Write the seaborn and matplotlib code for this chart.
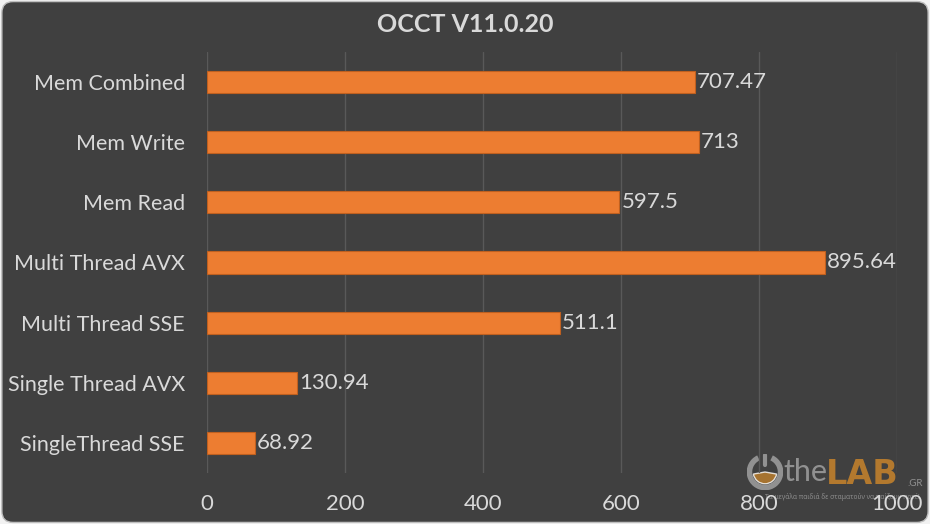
import matplotlib
matplotlib.use("Agg")
import matplotlib.pyplot as plt
import seaborn as sns
import pandas as pd
from matplotlib.patches import FancyBboxPatch, Arc, Wedge

categories = ["Mem Combined", "Mem Write", "Mem Read", "Multi Thread AVX",
              "Multi Thread SSE", "Single Thread AVX", "SingleThread SSE"]
values = [707.47, 713, 597.5, 895.64, 511.1, 130.94, 68.92]
value_labels = ["707.47", "713", "597.5", "895.64", "511.1", "130.94", "68.92"]
x_ticks = [0, 200, 400, 600, 800, 1000]
title = "OCCT V11.0.20"

df = pd.DataFrame({"cat": categories, "val": values})

sns.set_theme(style="dark")
plt.rcParams['font.family'] = ['Lato', 'DejaVu Sans']

BG = "#404040"
TXT = "#D9D9D9"
ORANGE = "#ED7D31"
WM_GRAY = "#A0A0A0"
WM_ORANGE = "#C0802C"

fig = plt.figure(figsize=(9.3, 5.24), dpi=100)
fig.patch.set_facecolor("#F2F2F2")
bg = FancyBboxPatch((0.002, 0.003), 0.996, 0.994, boxstyle="round,pad=0,rounding_size=0.012",
                    transform=fig.transFigure, facecolor=BG, edgecolor="#BFBFBF", linewidth=1.0,
                    mutation_aspect=930/524, zorder=-10)
fig.patches.append(bg)

# watermark logo (behind chart)
lax = fig.add_axes([747/930, 1 - 490/524, 36/930, 36/524], zorder=-2)
lax.set_xlim(-1.1, 1.1)
lax.set_ylim(-1.1, 1.1)
lax.set_aspect("equal")
lax.axis("off")
lax.add_patch(Wedge((0, 0), 0.72, 190, 350, facecolor=WM_ORANGE, alpha=0.8))
lax.add_patch(Arc((0, 0), 1.9, 1.9, theta1=115, theta2=425, color=WM_GRAY,
                  linewidth=4, alpha=0.85))
lax.plot([0, 0], [0.45, 1.05], color=WM_GRAY, linewidth=3, alpha=0.85)

fig.text(783/930, 1 - 472/524, "the", color=WM_GRAY, fontsize=22, alpha=0.85,
         ha="left", va="center", zorder=-5)
fig.text(826/930, 1 - 474/524, "LAB", color=WM_ORANGE, fontsize=24, fontweight="bold",
         alpha=0.9, ha="left", va="center", zorder=-5, family=['DejaVu Sans'])
fig.text(907/930, 1 - 483/524, ".GR", color=WM_GRAY, fontsize=7, alpha=0.85,
         ha="left", va="center", zorder=-5)
fig.text(842/930, 1 - 497/524, "Τα μεγάλα παιδιά δε σταματούν να παίζουν ποτέ!",
         color=WM_GRAY, fontsize=4.8, alpha=0.8, ha="center", va="center", zorder=-5,
         family=['Noto Sans', 'DejaVu Sans'])

ax = fig.add_axes([207/930, 1 - 473/524, 690/930, 421/524])
ax.set_facecolor("none")

sns.barplot(data=df, y="cat", x="val", orient="h", color=ORANGE, width=0.37,
            edgecolor="#C0601F", linewidth=0.8, saturation=1, ax=ax)

for p, lab in zip(ax.patches, value_labels):
    ax.text(p.get_width() + 3, p.get_y() + p.get_height() / 2, lab,
            color=TXT, fontsize=16, va="center", ha="left")

ax.set_xlim(0, 1000)
ax.set_xticks(x_ticks)
ax.set_xticklabels([str(t) for t in x_ticks], color=TXT, fontsize=16)
ax.tick_params(axis="x", length=0, pad=15)
ax.tick_params(axis="y", length=0, pad=16, labelcolor=TXT, labelsize=15.5)
ax.set_xlabel("")
ax.set_ylabel("")
ax.grid(axis="x", color="#595959", linewidth=1)
ax.grid(axis="y", visible=False)
ax.set_axisbelow(True)
for s in ax.spines.values():
    s.set_visible(False)

fig.text(0.5, 1 - 24/524, title, ha="center", va="center", color=TXT,
         fontsize=18, fontweight="bold")

fig.savefig("out.png", dpi=100, facecolor=fig.get_facecolor())
